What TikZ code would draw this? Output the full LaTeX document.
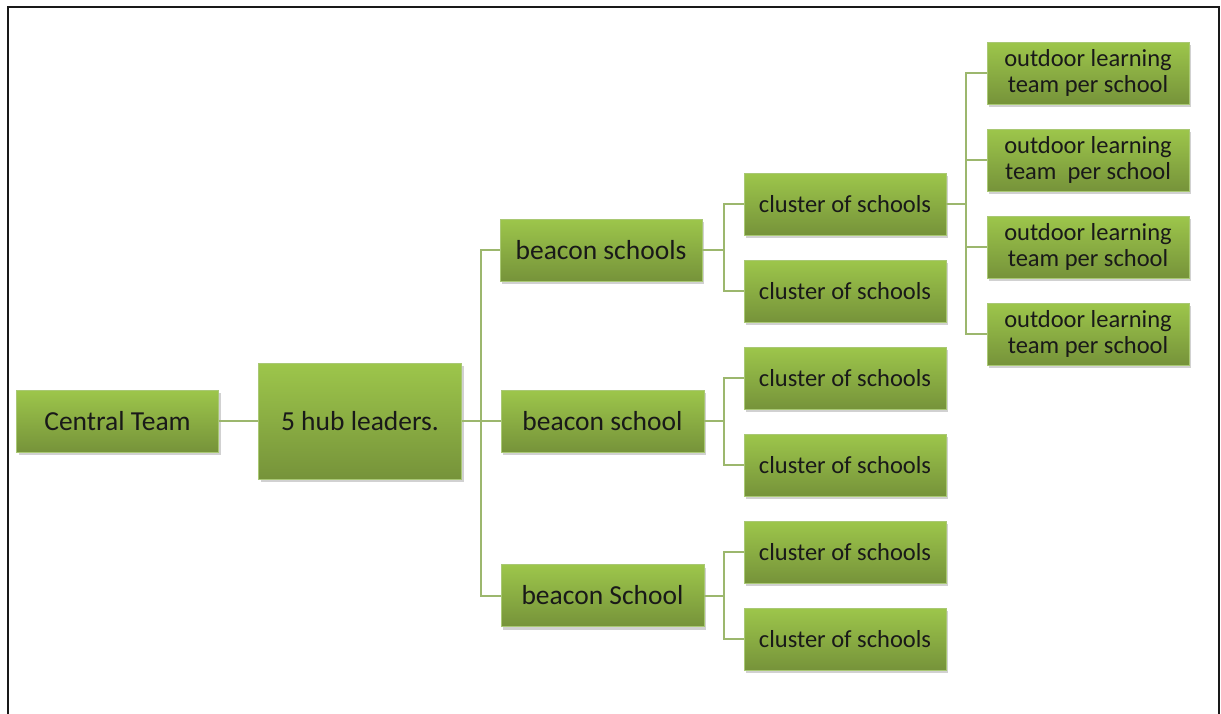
\documentclass[tikz,border=0pt]{standalone}
\usepackage{fontspec}
\setmainfont{Carlito}
\usetikzlibrary{shadows}
\definecolor{gtop}{HTML}{9DC64B}
\definecolor{gbot}{HTML}{76933A}
\definecolor{conn}{HTML}{9CB76D}
\definecolor{gedge}{HTML}{A9C874}
\tikzset{
  gbox/.style={draw=gedge, line width=0.6pt, top color=gtop, bottom color=gbot,
    minimum width=202pt, minimum height=62pt, inner sep=0pt, align=center,
    text=black!90,
    drop shadow={shadow xshift=2pt, shadow yshift=-3pt, fill=black!40, opacity=0.45}},
  bigtxt/.style={font=\fontsize{27.5}{30}\selectfont},
  smalltxt/.style={font=\fontsize{24.5}{26}\selectfont},
  link/.style={draw=conn, line width=2pt},
  frameline/.style={draw=black!90, line width=2.5pt}
}
\begin{document}
\begin{tikzpicture}[x=1pt,y=-1pt]
\useasboundingbox (0,0) rectangle (1221,713);
\draw[frameline] (8,714) -- (8,7) -- (1219,7) -- (1219,714);

\node[gbox,bigtxt] (central) at (117.5,421) {Central Team};
\node[gbox,bigtxt,minimum width=203pt,minimum height=116pt] (hub) at (360,421) {5 hub leaders.};

\node[gbox,bigtxt] (b1) at (601,250) {beacon schools};
\node[gbox,bigtxt,minimum width=203pt] (b2) at (602.5,421) {beacon school};
\node[gbox,bigtxt,minimum width=203pt] (b3) at (602.5,595.5) {beacon School};

\node[gbox,smalltxt] (c1) at (845,204) {cluster of schools};
\node[gbox,smalltxt] (c2) at (845,291) {cluster of schools};
\node[gbox,smalltxt] (c3) at (845,378) {cluster of schools};
\node[gbox,smalltxt] (c4) at (845,465) {cluster of schools};
\node[gbox,smalltxt] (c5) at (845,552) {cluster of schools};
\node[gbox,smalltxt] (c6) at (845,639) {cluster of schools};

\node[gbox,smalltxt] (o1) at (1088,73) {outdoor learning\\team per school};
\node[gbox,smalltxt] (o2) at (1088,160) {outdoor learning\\team\ \ per school};
\node[gbox,smalltxt] (o3) at (1088,247) {outdoor learning\\team per school};
\node[gbox,smalltxt] (o4) at (1088,334) {outdoor learning\\team per school};

\coordinate (j1) at (481,421);
\coordinate (j2) at (724,0);
\coordinate (j3) at (966,0);

\draw[link] (central.east) -- (hub.west);
\draw[link] (hub.east) -- (j1);
\foreach \b in {b1,b2,b3}{
  \draw[link] (j1) |- (\b.west);
}
\draw[link] (b1.east) -- (b1.east -| j2);
\foreach \c in {c1,c2}{ \draw[link] (b1.east -| j2) |- (\c.west); }
\draw[link] (b2.east) -- (b2.east -| j2);
\foreach \c in {c3,c4}{ \draw[link] (b2.east -| j2) |- (\c.west); }
\draw[link] (b3.east) -- (b3.east -| j2);
\foreach \c in {c5,c6}{ \draw[link] (b3.east -| j2) |- (\c.west); }
\draw[link] (c1.east) -- (c1.east -| j3);
\foreach \o in {o1,o2,o3,o4}{ \draw[link] (c1.east -| j3) |- (\o.west); }
\end{tikzpicture}
\end{document}
